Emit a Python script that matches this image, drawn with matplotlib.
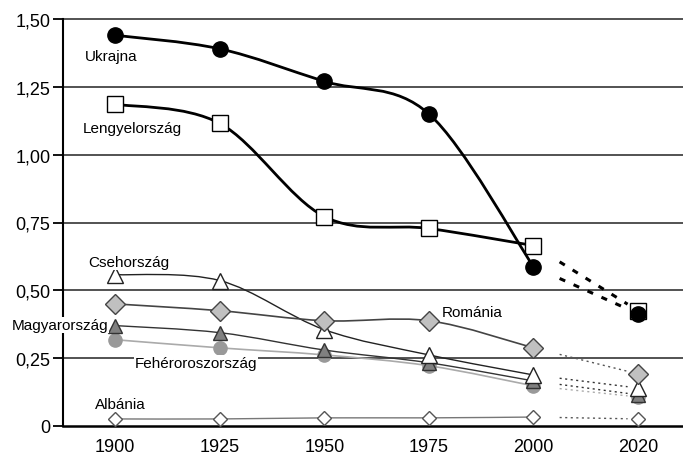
import matplotlib
matplotlib.use("Agg")
from matplotlib import pyplot as plt
from matplotlib.path import Path
from matplotlib.patches import PathPatch

plt.rcParams['font.family'] = ['Liberation Sans', 'DejaVu Sans']

years = [1900, 1925, 1950, 1975, 2000, 2020]
yticks = [0, 0.25, 0.5, 0.75, 1.0, 1.25, 1.5]
ytick_labels = ["0", "0,25", "0,50", "0,75", "1,00", "1,25", "1,50"]

ukrajna = [1.44, 1.39, 1.27, 1.15, 0.587, 0.414]
lengyel = [1.186, 1.115, 0.772, 0.728, 0.665, 0.425]
cseh = [0.558, 0.536, 0.355, 0.262, 0.188, 0.14]
romania = [0.45, 0.425, 0.388, 0.388, 0.288, 0.192]
magyar = [0.37, 0.344, 0.28, 0.233, 0.166, 0.115]
feher = [0.318, 0.288, 0.262, 0.222, 0.148, 0.107]
albania = [0.026, 0.026, 0.03, 0.03, 0.033, 0.026]

# (values, line colour, line width, marker, face, edge, size, dotted colour, dotted width, z)
series = [
    (albania, '#777777', 1.0, 'D', 'white', '#555555', 7.5, '#555555', 1.0, 3),
    (feher, '#aaaaaa', 1.2, 'o', '#999999', '#999999', 9.5, '#aaaaaa', 1.0, 4),
    (magyar, '#333333', 1.0, '^', '#808080', '#333333', 10, '#333333', 1.0, 5),
    (cseh, '#222222', 1.0, '^', 'white', '#222222', 11, '#333333', 1.0, 6),
    (romania, '#444444', 1.2, 'D', '#c0c0c0', '#444444', 10, '#555555', 1.0, 6),
    (lengyel, 'black', 2.0, 's', 'white', 'black', 11, 'black', 2.2, 7),
    (ukrajna, 'black', 2.0, 'o', 'black', 'black', 11, 'black', 2.2, 8),
]

labels = [
    ("Ukrajna", -0.29, 1.364),
    ("Lengyelország", -0.31, 1.098),
    ("Csehország", -0.26, 0.604),
    ("Magyarország", -0.99, 0.372),
    ("Fehéroroszország", 0.19, 0.232),
    ("Albánia", -0.19, 0.081),
    ("Románia", 3.12, 0.42),
]


def smooth_path(xs, ys):
    verts = [(xs[0], ys[0])]
    codes = [Path.MOVETO]
    n = len(xs)
    for i in range(n - 1):
        x0, y0 = (xs[i - 1], ys[i - 1]) if i > 0 else (xs[i], ys[i])
        x3, y3 = (xs[i + 2], ys[i + 2]) if i + 2 < n else (xs[i + 1], ys[i + 1])
        c1 = (xs[i] + (xs[i + 1] - x0) / 6, ys[i] + (ys[i + 1] - y0) / 6)
        c2 = (xs[i + 1] - (x3 - xs[i]) / 6, ys[i + 1] - (y3 - ys[i]) / 6)
        verts += [c1, c2, (xs[i + 1], ys[i + 1])]
        codes += [Path.CURVE4] * 3
    return Path(verts, codes)


fig = plt.figure(figsize=(6.83, 4.56), dpi=100)
ax = fig.add_axes([63 / 683, 29 / 456, 620 / 683, 407 / 456])

pos = list(range(len(years)))

for vals, lc, lw, mk, fc, ec, ms, dc, dw, z in series:
    p = smooth_path(pos[:5], vals[:5])
    ax.add_patch(PathPatch(p, facecolor='none', edgecolor=lc, lw=lw, zorder=z))
    # dotted link 2000 -> 2020
    t0, t1 = 0.25, 0.9
    xa = pos[4] + t0 * (pos[5] - pos[4])
    xb = pos[4] + t1 * (pos[5] - pos[4])
    ya = vals[4] + t0 * (vals[5] - vals[4])
    yb = vals[4] + t1 * (vals[5] - vals[4])
    ls = (0, (2, 3)) if dw > 1.5 else (0, (1.5, 2.5))
    ax.plot([xa, xb], [ya, yb], color=dc, lw=dw, ls=ls, zorder=z)
    ax.plot(pos, vals, ls='none', marker=mk, mfc=fc, mec=ec, mew=1.0,
            ms=ms, zorder=z + 0.5)

for txt, x, y in labels:
    ax.text(x, y, txt, fontsize=11, ha='left', va='center', zorder=10,
            clip_on=False,
            bbox=dict(facecolor='white', edgecolor='none', pad=0.5))

ax.set_xlim(-0.5, 5.43)
ax.set_ylim(0, 1.5)
ax.set_yticks(yticks)
ax.set_yticklabels(ytick_labels, fontsize=13)
ax.set_xticks(pos)
ax.set_xticklabels([str(y) for y in years], fontsize=13)
for yv in yticks[1:]:
    ax.axhline(yv, color='#444444', lw=1.3, zorder=1, clip_on=False)
for s in ['top', 'right']:
    ax.spines[s].set_visible(False)
ax.spines['left'].set_linewidth(1.5)
ax.spines['bottom'].set_linewidth(1.8)
ax.tick_params(axis='y', length=7, width=1.3, direction='out', pad=2)
ax.tick_params(axis='x', length=0, pad=9)

fig.savefig("out.png", dpi=100)
